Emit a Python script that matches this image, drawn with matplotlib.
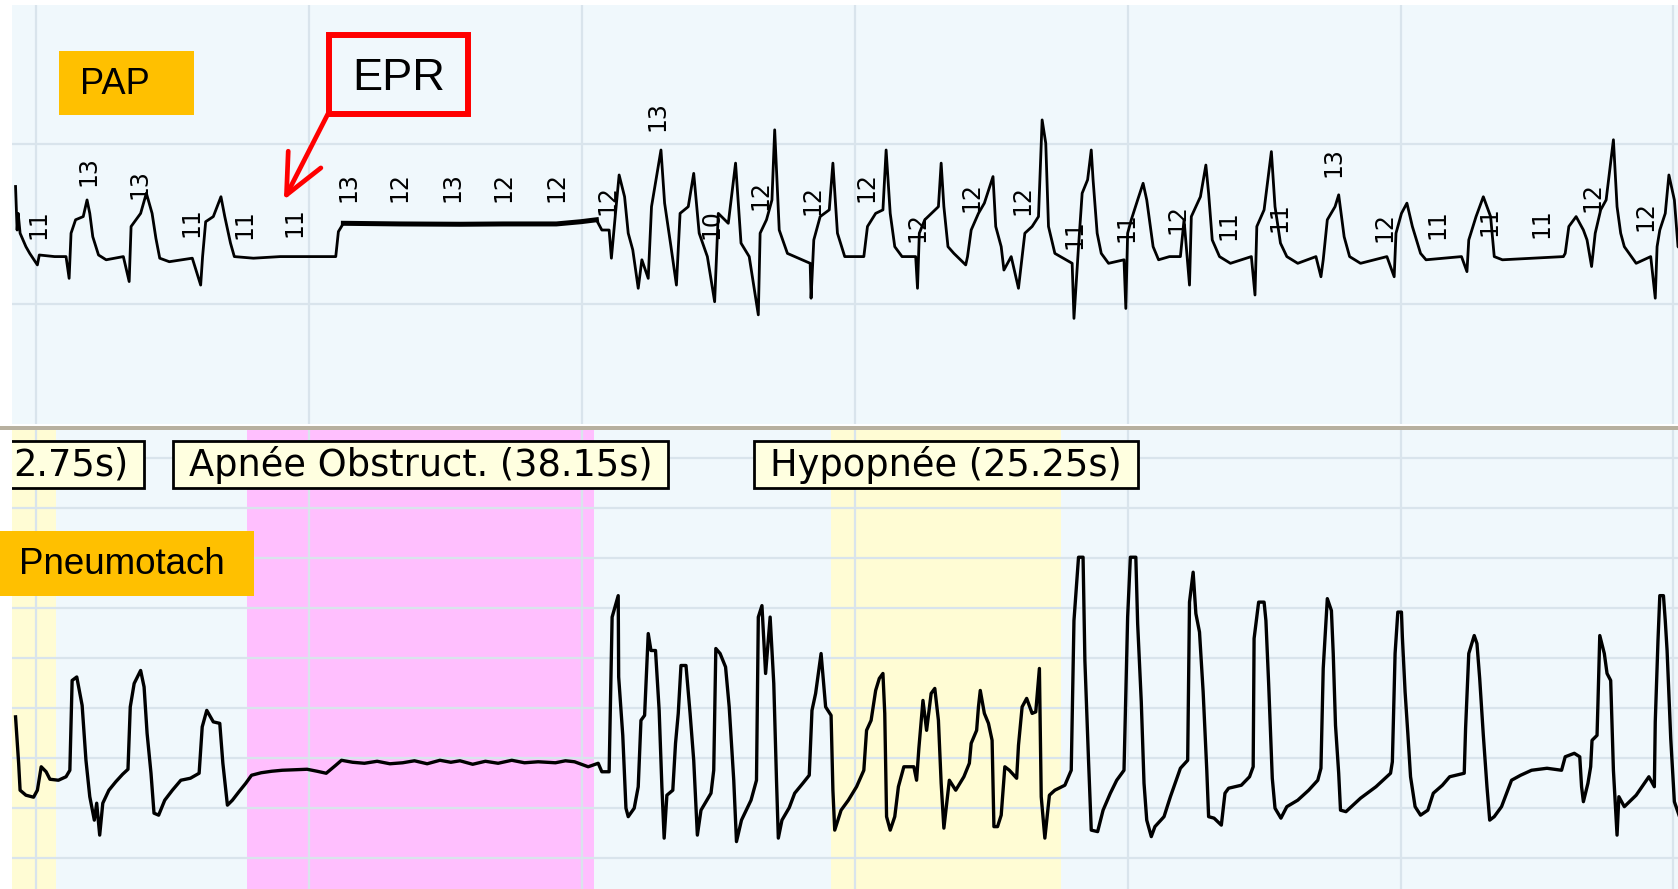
import matplotlib
matplotlib.use('Agg')
import matplotlib.pyplot as plt
from matplotlib.patches import Rectangle
import numpy as np

# PAP pressure trace (cmH2O) vs time (s)
pap_t = [-2.25, -2.08, -1.96, -1.75, -1.11, -0.69, 0.15, 0.36, 2.04, 3.30, 3.64, 3.85, 4.35, 5.19,
         5.61, 5.91, 6.24, 6.87, 7.71, 9.60, 10.24, 10.45, 11.50, 12.13, 12.76, 13.18, 13.60, 14.65,
         17.18, 18.10, 18.31, 18.65, 19.49, 20.33, 20.75, 21.38, 21.80, 23.90, 26.85, 32.95, 33.24,
         33.79, 40.0, 46.6, 51.4, 57.2, 59.9, 61.6, 62.2, 63.0, 63.25, 63.7, 64.1, 64.7, 65.1, 65.6,
         66.2, 66.6, 67.3, 67.66, 68.7, 69.1, 69.8, 70.4, 70.8, 71.7, 72.3, 72.9, 73.8, 74.6, 75.0,
         76.1, 76.9, 77.5, 78.4, 79.4, 79.6, 80.3, 80.9, 81.2, 81.7, 82.6, 85.1, 85.2, 85.5, 86.2,
         87.2, 87.6, 88.1, 88.9, 91.0, 91.4, 92.3, 93.1, 93.45, 93.9, 94.4, 95.2, 96.7, 96.9, 97.1,
         97.7, 99.2, 99.5, 99.8, 100.25, 100.9, 102.2, 102.4, 102.8, 103.6, 104.25, 105.2, 105.5,
         106.1, 106.4, 107.2, 108.0, 108.7, 109.5, 110.2, 110.6, 111.0, 111.3, 112.0, 113.9, 114.1,
         114.6, 115.0, 115.6, 116.0, 116.2, 116.65, 117.1, 117.9, 119.6, 119.8, 120.0, 120.4, 121.1,
         121.7, 122.1, 122.8, 123.4, 124.6, 125.8, 126.2, 126.8, 127.0, 128.0, 128.6, 128.9, 129.3,
         130.1, 131.3, 133.6, 134.0, 134.2, 135.0, 135.8, 136.2, 136.8, 137.5, 138.7, 140.7, 141.25,
         141.5, 141.95, 142.8, 143.2, 143.8, 144.4, 145.6, 148.5, 149.3, 149.5, 150.1, 150.7, 151.3,
         152.2, 152.8, 156.7, 157.3, 157.5, 158.3, 159.1, 159.9, 160.3, 161.2, 167.9, 168.1, 168.5,
         169.3, 170.1, 170.5, 171.0, 171.4, 172.0, 172.6, 173.4, 173.8, 174.2, 174.6, 175.9, 177.5,
         178.0, 178.2, 178.5, 179.1, 179.5, 180.1, 180.5, 180.9]
pap_p = [13.67, 12.31, 12.83, 12.21, 11.79, 11.58, 11.22, 11.53, 11.48, 11.48, 10.80, 12.21, 12.63, 12.73,
         13.25, 12.83, 12.10, 11.53, 11.38, 11.48, 10.70, 12.42, 12.83, 13.46, 12.83, 12.05, 11.43, 11.32,
         11.43, 10.59, 11.48, 12.57, 12.73, 13.35, 12.73, 11.90, 11.48, 11.43, 11.48, 11.48, 12.26,
         12.52, 12.50, 12.49, 12.50, 12.50, 12.57, 12.63, 12.31, 12.31, 11.43, 12.83, 14.03, 13.35, 12.21, 11.69,
         10.49, 11.38, 10.80, 13.04, 14.81, 13.15, 11.79, 10.59, 12.83, 13.04, 14.08, 12.21, 11.48, 10.07, 12.83,
         12.52, 14.40, 11.90, 11.48, 9.66, 12.21, 12.63, 13.25, 15.44, 12.31, 11.58, 11.27, 10.18, 12.00, 12.73,
         12.94, 14.40, 12.21, 11.48, 11.48, 12.42, 12.83, 12.94, 14.81, 12.83, 11.79, 11.48, 11.48, 10.49, 12.21,
         12.63, 13.04, 14.40, 13.04, 11.79, 11.58, 11.22, 11.48, 12.31, 12.83, 13.15, 13.98, 12.42,
         11.79, 11.06, 11.48, 10.49, 12.21, 12.42, 12.73, 15.75, 15.02, 12.42, 11.58, 11.27, 9.55,
         11.79, 13.46, 13.88, 14.81, 13.88, 12.21, 11.58, 11.27, 11.38, 9.86, 12.21, 12.63, 13.25,
         13.77, 13.25, 11.79, 11.38, 11.48, 11.48, 12.63, 10.59, 12.73, 13.35, 14.34, 13.46, 12.00,
         11.48, 11.27, 11.48, 10.28, 12.42, 12.94, 14.76, 13.04, 11.90, 11.48, 11.27, 11.48, 10.85,
         11.38, 12.63, 13.04, 13.41, 12.10, 11.48, 11.27, 11.48, 10.85, 12.21, 12.83, 13.15, 12.42,
         11.58, 11.38, 11.48, 11.01, 12.00, 12.73, 13.35, 12.73, 11.48, 11.38, 11.48, 11.58, 12.42,
         12.73, 12.31, 12.00, 11.17, 12.21, 12.94, 13.25, 15.13, 13.04, 12.21, 11.79, 11.27, 11.48,
         10.18, 11.79, 12.31, 12.83, 14.03, 13.25, 11.79, 11.69]

# pressure values printed by the recorder above each breath
pap_lbl_t = [0.27, 5.71, 11.32, 17.14, 22.86, 28.46, 34.29, 40.0, 45.82, 51.43, 57.25, 62.86,
             68.35, 74.29, 79.67, 85.38, 91.32, 96.92, 102.86, 108.46, 114.18, 119.89, 125.49,
             131.1, 136.7, 142.64, 148.24, 154.07, 159.78, 165.49, 171.1, 176.92]
pap_lbl_p = [12.5, 14.16, 13.75, 12.56, 12.5, 12.56, 13.66, 13.66, 13.66, 13.66, 13.66, 13.25,
             15.88, 12.5, 13.41, 13.25, 13.66, 12.41, 13.34, 13.25, 12.19, 12.41, 12.66,
             12.47, 12.72, 14.44, 12.41, 12.5, 12.59, 12.53, 13.34, 12.75]
pap_lbl = ['11', '13', '13', '11', '11', '11', '13', '12', '13', '12', '12', '12',
           '13', '10', '12', '12', '12', '12', '12', '12', '11', '11', '12',
           '11', '11', '13', '12', '11', '11', '11', '12', '12']

# Pneumotach flow (one unit = one grid division)
flow_t = [-2.25, -1.91, -1.75, -1.11, -0.27, 0.15, 0.57, 1.11, 1.53, 2.46, 3.30, 3.72, 3.97, 4.48,
          5.07, 5.49, 5.91, 6.41, 6.67, 7.00, 7.34, 8.01, 8.77, 9.52, 10.11, 10.36, 10.79, 11.5,
          11.88, 12.21, 12.64, 12.97, 13.48, 14.15, 14.99, 15.92, 16.97, 17.93, 18.27, 18.77, 19.49,
          20.2, 20.54, 21.04, 21.59, 22.31, 23.06, 23.69, 24.75, 25.9, 27.06, 28.4, 29.8, 30.9, 31.9,
          32.95, 33.58, 34.8, 36.1, 37.5, 38.9, 40.3, 41.6, 43.0, 44.4, 45.6, 46.6, 48.0, 49.4,
          50.8, 52.3, 53.7, 55.2, 57.1, 58.2, 59.2, 60.7, 61.8, 62.2, 63.0,
          63.05, 63.33, 64.0, 64.05, 64.5, 64.85, 65.1, 65.76, 66.2, 66.5, 66.9, 67.3, 67.6, 68.1,
          68.5, 68.8, 69.05, 69.35, 70.0, 70.3, 70.6, 70.9, 71.45, 71.9, 72.3, 72.7, 73.1, 74.2,
          74.5, 74.73, 75.2, 75.8, 76.2, 76.7, 77.0, 77.55, 78.6, 79.2, 79.4, 79.8, 80.2, 80.7,
          81.1, 81.4, 81.6, 82.0, 82.8, 83.4, 84.3, 85.0, 85.3, 85.7, 86.3, 86.8, 87.4, 87.6, 87.8,
          88.5, 89.3, 90.2, 91.0, 91.3, 91.8, 92.3, 92.7, 93.1, 93.3, 93.5, 93.9, 94.4, 94.8, 95.4,
          96.5, 96.8, 97.05, 97.5, 97.9, 98.4, 98.8, 99.2, 99.5, 99.8, 100.4, 101.1, 102.0, 102.6,
          102.8, 103.4, 103.6, 103.8, 104.25, 104.7, 105.1, 105.3, 105.7, 106.1, 106.5, 107.0,
          107.8, 108.0, 108.4, 108.9, 109.5, 109.9, 110.3, 110.5, 110.9, 111.4, 112.0, 113.1,
          113.8, 114.1, 114.6, 115.1, 115.3, 115.7, 116.0, 116.7, 117.3, 118.1, 118.8, 119.6,
          120.0, 120.3, 120.9, 121.1, 121.5, 121.8, 122.1, 122.6, 123.0, 124.0, 124.7, 125.8,
          126.6, 126.8, 127.2, 127.5, 127.9, 128.3, 128.7, 128.9, 129.5, 130.3, 130.7, 131.1,
          132.5, 133.4, 133.8, 133.9, 134.4, 135.0, 135.2, 135.5, 135.9, 136.2, 136.85, 137.5,
          138.7, 139.9, 140.9, 141.25, 141.5, 141.95, 142.4, 142.6, 142.85, 143.2, 143.4, 144.0,
          145.6, 147.3, 148.9, 149.1, 149.4, 149.7, 150.1, 150.2, 150.5, 150.8, 151.1, 151.6,
          152.2, 153.0, 153.6, 154.6, 155.4, 157.0, 157.15, 157.5, 158.1, 158.4, 158.7, 159.1,
          159.5, 159.8, 160.3, 161.1, 162.2, 163.2, 164.4, 166.1, 167.7, 168.1, 169.1, 169.7,
          169.9, 170.1, 170.6, 170.9, 171.05, 171.6, 171.7, 171.9, 172.4, 172.7, 173.1, 173.4,
          173.8, 174.0, 174.6, 175.9, 177.3, 177.9, 178.0, 178.3, 178.5, 178.9, 179.1, 179.3,
          179.7, 180.1, 180.8]
flow_v = [0.82, -0.11, -0.65, -0.75, -0.79, -0.65, -0.18, -0.28, -0.43, -0.45, -0.38, -0.25, 1.55, 1.62,
          1.05, -0.05, -0.78, -1.25, -0.91, -1.55, -0.91, -0.65, -0.48, -0.33, -0.23, 1.02, 1.49, 1.75,
          1.42, 0.49, -0.31, -1.11, -1.15, -0.85, -0.65, -0.45, -0.41, -0.31, 0.62, 0.95, 0.72,
          0.69, -0.11, -0.95, -0.85, -0.68, -0.51, -0.35, -0.30, -0.27, -0.25, -0.24, -0.23, -0.27, -0.31,
          -0.15, -0.05, -0.09, -0.11, -0.07, -0.12, -0.10, -0.06, -0.12, -0.05, -0.09, -0.06, -0.13, -0.07,
          -0.11, -0.05, -0.10, -0.08, -0.10, -0.06, -0.08, -0.18, -0.11, -0.28, -0.28,
          0.19, 2.82, 3.25, 1.62, 0.45, -1.01, -1.18, -1.01, -0.58, 0.75, 0.85, 2.49, 2.15, 2.15,
          0.95, -0.58, -1.61, -0.75, -0.65, 0.29, 0.89, 1.85, 1.85, 0.89, -0.05, -1.55, -1.05, -0.71,
          -0.25, 2.19, 2.09, 1.82, 1.02, -0.45, -1.68, -1.25, -0.85, -0.45, 2.82, 3.05, 1.69, 2.82,
          1.49, -0.45, -1.61, -1.25, -1.0, -0.71, -0.51, -0.35, 0.95, 1.29, 2.09, 1.02, 0.85, -0.65, -1.45,
          -1.05, -0.85, -0.58, -0.25, 0.55, 0.75, 1.35, 1.59, 1.69, 0.89, -1.18, -1.45, -1.18, -0.58, -0.18,
          -0.18, -0.45, 0.19, 1.15, 0.55, 1.29, 1.39, 0.75, -0.51, -1.41, -0.45, -0.65, -0.38, -0.11,
          0.29, 0.55, 1.02, 1.35, 0.89, 0.69, 0.35, -1.38, -1.38, -1.15, -0.18, -0.25,
          -0.41, 0.25, 1.02, 1.19, 0.89, 0.92, 1.79, -0.78, -1.61, -0.75, -0.65, -0.55,
          -0.25, 2.75, 4.02, 4.02, 1.95, -0.05, -1.45, -1.48, -1.05, -0.71, -0.45, -0.25,
          2.82, 4.02, 4.02, 2.69, 1.12, -0.51, -1.25, -1.58, -1.38, -1.18, -0.78, -0.21,
          -0.05, 3.12, 3.72, 2.89, 2.52, 1.32, -0.25, -1.18, -1.21, -1.35, -0.71, -0.61,
          -0.55, -0.38, -0.18, 2.39, 3.12, 3.12, 2.75, 1.49, -0.41, -1.01, -1.21, -0.98,
          -0.85, -0.65, -0.45, -0.21, 1.79, 3.19, 2.95, 2.09, 0.65, -0.31, -1.05, -1.08,
          -0.81, -0.58, -0.31, -0.08, 2.09, 2.92, 2.92, 2.42, 1.32, 0.49, -0.38, -0.98,
          -1.15, -1.05, -0.71, -0.55, -0.38, -0.31, 0.59, 2.09, 2.45, 2.29, 1.59, 0.45,
          -0.58, -1.25, -1.18, -0.98, -0.45, -0.35, -0.25, -0.21, -0.25, 0.02, 0.09, 0.02,
          -0.58, -0.88, -0.51, -0.18, 0.35, 0.45, 1.09, 2.45, 2.09, 1.69, 1.55, -0.25,
          -1.55, -0.78, -0.98, -0.75, -0.38, -0.58, 0.72, 2.35, 3.25, 3.25, 2.75, 2.15,
          0.39, -0.88, -1.25]

# scored respiratory events: start (s), duration (s), type
event_start = [-20.55, 23.2, 87.4]
event_dur = [22.75, 38.15, 25.25]
event_type = ['Hypopnée', 'Apnée Obstruct.', 'Hypopnée']

W, H = 1678, 889
BG = '#f0f8fc'
GRID = '#d9e4ec'
EVENT_COLORS = {'Hypopnée': '#fffcd4', 'Apnée Obstruct.': '#ffbffe'}

fig = plt.figure(figsize=(W / 100, H / 100), dpi=100)
fig.patch.set_facecolor('white')

ax_pap = fig.add_axes([12 / W, 1 - 424 / H, 1 - 12 / W, 419 / H])
ax_flow = fig.add_axes([12 / W, 0, 1 - 12 / W, 459 / H])

for ax in (ax_pap, ax_flow):
    ax.set_facecolor(BG)
    ax.set_xlim(-2.64, 180.5)
    ax.set_xticks(np.arange(0, 181, 30))
    ax.tick_params(length=0, labelbottom=False, labelleft=False)
    for s in ax.spines.values():
        s.set_visible(False)
    ax.grid(True, color=GRID, lw=1.6)
    ax.set_axisbelow(True)

ax_pap.set_ylim(6.25, 19.34)
ax_pap.set_yticks([10, 15])
ax_flow.set_ylim(-2.63, 6.57)
ax_flow.set_yticks(np.arange(-2, 7))

# PAP channel
pap_t = np.array(pap_t)
pap_p = np.array(pap_p)
ax_pap.plot(pap_t, pap_p, color='black', lw=2.0, zorder=3)
flat = (pap_t >= 33.7) & (pap_t <= 61.7)
ax_pap.plot(pap_t[flat], pap_p[flat], color='black', lw=3.6, zorder=3)
for t, p, s in zip(pap_lbl_t, pap_lbl_p, pap_lbl):
    ax_pap.text(t, p, s, rotation=90, ha='center', va='center', fontsize=17,
                family='DejaVu Sans', color='black', zorder=4)

# Pneumotach channel with scored events
for st, du, kind in zip(event_start, event_dur, event_type):
    ax_flow.axvspan(st, st + du, color=EVENT_COLORS[kind], lw=0, zorder=0.2)
ax_flow.plot(flow_t, flow_v, color='black', lw=2.4, zorder=3)

box_lo, box_hi, box_mid = 5.40, 6.35, 5.87
labels = []
for st, du, kind in zip(event_start, event_dur, event_type):
    txt = ax_flow.text(st + du / 2, box_mid, f'{kind} ({du:.2f}s)', ha='center', va='center',
                       fontsize=26.5, family='DejaVu Sans', color='black', zorder=6)
    labels.append(txt)

fig.canvas.draw()
renderer = fig.canvas.get_renderer()
inv = ax_flow.transData.inverted()
left_edge = ax_flow.get_window_extent(renderer).x0
for txt in labels:
    bb = txt.get_window_extent(renderer)
    x0 = inv.transform((bb.x0 - 16, 0))[0]
    x1 = inv.transform((bb.x1 + 16, 0))[0]
    if bb.x0 < left_edge:
        # event began before the window: keep only the tail that fits
        right = inv.transform((bb.x1, 0))[0]
        full = txt.get_text()
        txt.set_horizontalalignment('right')
        txt.set_x(right)
        for k in range(len(full)):
            txt.set_text(full[k:])
            if txt.get_window_extent(renderer).x0 >= left_edge:
                break
    ax_flow.add_patch(Rectangle((x0, box_lo), x1 - x0, box_hi - box_lo, facecolor='#ffffe0',
                                edgecolor='black', lw=2.0, zorder=5, clip_on=True))

# channel name tags
fig.add_artist(Rectangle((59 / W, 1 - 115 / H), 135 / W, 64 / H, transform=fig.transFigure,
                         facecolor='#ffc000', edgecolor='none', zorder=5))
fig.text(80 / W, 1 - 84 / H, 'PAP', fontsize=26, family='Liberation Sans', va='center',
         ha='left', color='black', zorder=6)
fig.add_artist(Rectangle((0, 1 - 596 / H), 254 / W, 65 / H, transform=fig.transFigure,
                         facecolor='#ffc000', edgecolor='none', zorder=5))
fig.text(19 / W, 1 - 564 / H, 'Pneumotach', fontsize=26.5, family='Liberation Sans',
         va='center', ha='left', color='black', zorder=6)

# separator between the two channels
fig.add_artist(Rectangle((0, 1 - 429.5 / H), 1, 3.5 / H, transform=fig.transFigure,
                         facecolor='#b7b09f', edgecolor='none', zorder=5))

# EPR callout
fig.add_artist(Rectangle((329 / W, 1 - 114 / H), 139 / W, 79 / H, transform=fig.transFigure,
                         facecolor=BG, edgecolor='#ff0000', lw=4.3, zorder=5))
fig.text(398.5 / W, 1 - 78 / H, 'EPR', fontsize=32.5, family='Liberation Sans',
         va='center', ha='center', color='black', zorder=6)
ax_pap.annotate('', xy=(27.25, 13.25), xytext=(32.2, 16.0),
                arrowprops=dict(arrowstyle='->,head_length=1.3,head_width=0.6', color='#ff0000',
                                lw=3.4, mutation_scale=22, shrinkA=0, shrinkB=0), zorder=6)

fig.savefig('out.png', dpi=100, facecolor='white')
